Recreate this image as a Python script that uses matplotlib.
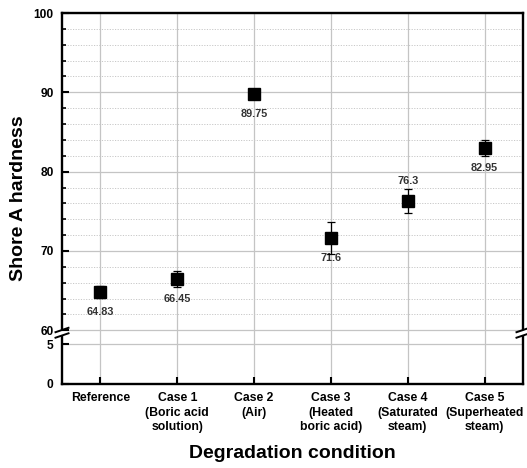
import numpy as np
import matplotlib
matplotlib.use("Agg")
import matplotlib.pyplot as plt
from matplotlib.ticker import FixedLocator

plt.rcParams['font.family'] = ['Liberation Sans', 'DejaVu Sans']

categories = ["Reference", "Case 1\n(Boric acid\nsolution)", "Case 2\n(Air)",
              "Case 3\n(Heated\nboric acid)", "Case 4\n(Saturated\nsteam)",
              "Case 5\n(Superheated\nsteam)"]
hardness = [64.83, 66.45, 89.75, 71.6, 76.3, 82.95]
errors = [0.8, 1.0, 0.4, 2.0, 1.5, 1.0]
labels = ["64.83", "66.45", "89.75", "71.6", "76.3", "82.95"]
label_above = [False, False, False, False, True, False]
yticks_major = [0, 5, 60, 70, 80, 90, 100]
yticks_minor = [62, 64, 66, 68, 72, 74, 76, 78, 82, 84, 86, 88, 92, 94, 96, 98]

G = 1.77  # gap size (in transformed units) for the axis break


def fwd(y):
    y = np.asarray(y, dtype=float)
    return np.where(y <= 5, y, np.where(y >= 60, y - 55 + G, 5 + (y - 5) * G / 55))


def inv(t):
    t = np.asarray(t, dtype=float)
    return np.where(t <= 5, t, np.where(t >= 5 + G, t + 55 - G, 5 + (t - 5) * 55 / G))


fig = plt.figure(figsize=(5.27, 4.68), dpi=100)
ax = fig.add_axes([62 / 527, 1 - 384 / 468, (523 - 62) / 527, (384 - 13) / 468])
ax.set_yscale('function', functions=(fwd, inv))
ax.set_ylim(0, 100)
x = np.arange(len(categories))
ax.set_xlim(-0.5, len(categories) - 0.5)

ax.set_axisbelow(True)
ax.yaxis.set_major_locator(FixedLocator(yticks_major))
ax.yaxis.set_minor_locator(FixedLocator(yticks_minor))
ax.set_yticklabels([str(v) for v in yticks_major], fontsize=8.6, fontweight='bold')
ax.set_xticks(x)
ax.set_xticklabels(categories, fontsize=8.8, fontweight='bold')
for t in ax.get_xticklabels():
    t.set_linespacing(1.25)

ax.grid(which='major', axis='both', color='#c4c4c4', lw=0.9, ls='-')
ax.grid(which='minor', axis='y', color='#c8c8c8', lw=0.7, ls=(0, (1.2, 1.5)))

ax.tick_params(axis='y', which='major', direction='in', length=5, width=1.5, pad=6, left=True, right=False)
ax.tick_params(axis='y', which='minor', direction='in', length=3, width=1.2, left=True, right=False)
ax.tick_params(axis='x', which='major', direction='in', length=5, width=1.5, pad=6, top=False, bottom=True)

ax.errorbar(x, hardness, yerr=errors, fmt='s', color='black', markersize=8,
            ecolor='black', elinewidth=0.9, capsize=3.2, capthick=0.9, zorder=5)

for xi, yi, lab, up in zip(x, hardness, labels, label_above):
    ax.annotate(lab, (xi, yi), xytext=(0, 14.5 if up else -14.5), textcoords='offset points',
                ha='center', va='center', fontsize=7.8, fontweight='bold', color='#333333')

ax.set_ylabel("Shore A hardness", fontsize=14, fontweight='bold', labelpad=5)
ax.set_xlabel("Degradation condition", fontsize=14, fontweight='bold', labelpad=9)

# spines with break
spine_lw = 1.7
for side in ('left', 'right'):
    ax.spines[side].set_visible(False)
for side in ('top', 'bottom'):
    ax.spines[side].set_linewidth(spine_lw)

H = 371.0
W = 461.0
low_end = (384 - 337) / H
high_start = (384 - 329) / H
for xa in (0.0, 1.0):
    ax.plot([xa, xa], [0, low_end], transform=ax.transAxes, color='black', lw=spine_lw,
            clip_on=False, solid_capstyle='projecting', zorder=6)
    ax.plot([xa, xa], [high_start, 1], transform=ax.transAxes, color='black', lw=spine_lw,
            clip_on=False, solid_capstyle='projecting', zorder=6)
    for pc in (330.0, 335.5):
        fc = (384 - pc) / H
        dx = 6.5 / W
        dy = 2.2 / H
        ax.plot([xa - dx, xa + dx], [fc - dy, fc + dy], transform=ax.transAxes,
                color='black', lw=1.4, clip_on=False, zorder=7)

fig.savefig("out.png", dpi=100)
